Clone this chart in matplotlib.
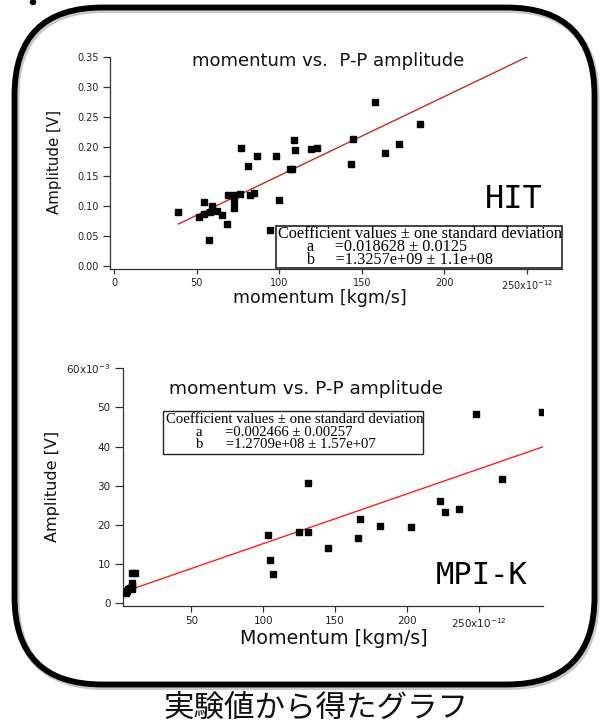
import matplotlib
matplotlib.use('Agg')
import matplotlib.pyplot as plt
from matplotlib.patches import FancyBboxPatch, Rectangle, Circle
import numpy as np

plt.rcParams['font.family'] = ['DejaVu Sans']

# ---------------- data ----------------
# HIT (x in 1e-12 kgm/s, y in V)
hit_x = [38.9, 51.7, 54.5, 54.7, 57.3, 58.1, 59.1, 62.3, 65.6, 68.6, 69.0, 72.6,
         72.6, 72.6, 76.5, 76.9, 81.3, 82.3, 84.7, 86.4, 94.3, 98.2, 100.1, 106.8,
         107.9, 108.9, 109.8, 119.5, 123.2, 143.4, 144.5, 158.0, 163.8, 172.6, 185.3]
hit_y = [0.090, 0.082, 0.107, 0.087, 0.043, 0.090, 0.101, 0.092, 0.086, 0.070, 0.119, 0.119,
         0.109, 0.097, 0.120, 0.198, 0.167, 0.119, 0.123, 0.184, 0.060, 0.184, 0.110, 0.162,
         0.163, 0.211, 0.194, 0.196, 0.198, 0.171, 0.213, 0.275, 0.190, 0.204, 0.237]
hit_a, hit_b = 0.018628, 1.3257e9
hit_fit_range = [39.0, 250.0]
hit_xticks = [0, 50, 100, 150, 200, 250]
hit_xticklabels = ['0', '50', '100', '150', '200', r'250x10$^{-12}$']
hit_yticks = [0.00, 0.05, 0.10, 0.15, 0.20, 0.25, 0.30, 0.35]
hit_coef_lines = ['Coefficient values ± one standard deviation',
                  '       a     =0.018628 ± 0.0125',
                  '       b     =1.3257e+09 ± 1.1e+08']

# MPI-K (x in 1e-12 kgm/s, y in 1e-3 V)
mpi_x = [4.5, 5.4, 6.1, 7.2, 8.6, 8.6, 8.6, 8.6, 10.9, 103.0, 104.9, 106.5, 124.6,
         131.0, 131.5, 144.8, 166.1, 167.5, 181.6, 202.7, 223.2, 226.7, 236.5, 248.5,
         266.6, 294.4]
mpi_y = [2.6, 3.0, 3.5, 3.8, 3.5, 4.3, 5.0, 7.6, 7.7, 17.4, 11.1, 7.5, 18.1,
         30.6, 18.1, 14.1, 16.7, 21.5, 19.7, 19.5, 26.1, 23.3, 24.0, 48.4,
         31.6, 48.8]
mpi_a, mpi_b = 0.002466, 1.2709e8
mpi_fit_range = [4.5, 294.6]
mpi_xticks = [50, 100, 150, 200, 250]
mpi_xticklabels = ['50', '100', '150', '200', r'250x10$^{-12}$']
mpi_yticks = [0, 10, 20, 30, 40, 50, 60]
mpi_yticklabels = ['0', '10', '20', '30', '40', '50', r'60x10$^{-3}$']
mpi_coef_lines = ['Coefficient values ± one standard deviation',
                  '        a      =0.002466 ± 0.00257',
                  '        b      =1.2709e+08 ± 1.57e+07']

W, H = 600, 728
fig = plt.figure(figsize=(W / 100, H / 100), dpi=100)
fig.patch.set_facecolor('white')


def rect(l, t, r, b):
    return [l / W, 1 - b / H, (r - l) / W, (b - t) / H]


def style(ax, xlen, ylen, fs):
    for s in ('top', 'right'):
        ax.spines[s].set_visible(False)
    for s in ('left', 'bottom'):
        ax.spines[s].set_linewidth(0.9)
        ax.spines[s].set_color('#333333')
    ax.patch.set_alpha(0)
    ax.tick_params(axis='x', direction='out', length=xlen, width=0.9, color='#333333',
                   labelsize=fs, pad=3, labelcolor='#222222')
    ax.tick_params(axis='y', direction='out', length=ylen, width=0.9, color='#333333',
                   labelsize=fs, pad=3, labelcolor='#222222')


# ---------------- top chart (HIT) ----------------
ax1 = fig.add_axes(rect(110, 57, 562, 269))
ax1.set_xlim(-2.4, 271.2)
ax1.set_ylim(-0.005, 0.35)
fx = np.array(hit_fit_range)
ax1.plot(fx, hit_a + hit_b * fx * 1e-12, color='#c62a22', lw=1.0, zorder=2)
ax1.plot(hit_x, hit_y, ls='none', marker='s', ms=3.8, color='black', zorder=3)
ax1.set_xticks(hit_xticks)
ax1.set_xticklabels(hit_xticklabels)
ax1.set_yticks(hit_yticks)
ax1.set_yticklabels(['%.2f' % v for v in hit_yticks])
style(ax1, 3.6, 5, 7)

# ---------------- bottom chart (MPI-K) ----------------
ax2 = fig.add_axes(rect(122.5, 368.3, 542.7, 606))
ax2.set_xlim(2.0, 294.6)
ax2.set_ylim(-0.77, 60)
fx2 = np.array(mpi_fit_range)
ax2.plot(fx2, (mpi_a + mpi_b * fx2 * 1e-12) * 1e3, color='#ff2020', lw=1.0, zorder=2)
ax2.plot(mpi_x, mpi_y, ls='none', marker='s', ms=3.8, color='black', zorder=3)
ax2.set_xticks(mpi_xticks)
ax2.set_xticklabels(mpi_xticklabels)
ax2.set_yticks(mpi_yticks)
ax2.set_yticklabels(mpi_yticklabels)
style(ax2, 4.2, 5.5, 7.5)

# ---------------- overlay (pixel coordinates) ----------------
ov = fig.add_axes([0, 0, 1, 1], zorder=10)
ov.set_xlim(0, W)
ov.set_ylim(H, 0)
ov.axis('off')
ov.patch.set_alpha(0)

# rounded border with soft shadow
ov.add_patch(FancyBboxPatch((16.0, 9.5), 580, 677,
                            boxstyle='round,pad=0,rounding_size=88',
                            fill=False, lw=5, ec='#999999', alpha=0.55))
ov.add_patch(FancyBboxPatch((14.5, 7.5), 580, 677,
                            boxstyle='round,pad=0,rounding_size=88',
                            fill=False, lw=4.2, ec='black'))
ov.add_patch(Circle((33, 2), 2.5, color='black'))

# titles / labels
ov.text(328, 61, 'momentum vs.  P-P amplitude', ha='center', va='center', fontsize=13, color='#111111')
ov.text(306, 389, 'momentum vs. P-P amplitude', ha='center', va='center', fontsize=13.3, color='#111111')
ov.text(54, 162, 'Amplitude [V]', ha='center', va='center', rotation=90, fontsize=10.8, color='#111111')
ov.text(52, 486, 'Amplitude [V]', ha='center', va='center', rotation=90, fontsize=11.5, color='#111111')
ov.text(320, 298, 'momentum [kgm/s]', ha='center', va='center', fontsize=12.5, color='#111111')
ov.text(334, 638, 'Momentum [kgm/s]', ha='center', va='center', fontsize=13.7, color='#111111')
ov.text(514, 200, 'HIT', ha='center', va='center', fontsize=23, color='black',
        family='DejaVu Sans Mono')
ov.text(482, 575, 'MPI-K', ha='center', va='center', fontsize=22, color='black',
        family='DejaVu Sans Mono')

# coefficient boxes
serif = 'Liberation Serif'
ov.add_patch(Rectangle((276, 226), 286, 42, fill=False, lw=1.2, ec='#222222'))
ov.text(278, 247, '\n'.join(hit_coef_lines), ha='left', va='center',
        family=serif, fontsize=11.7, linespacing=0.74)

ov.add_patch(Rectangle((163, 410.7), 260, 43.6, fill=False, lw=1.0, ec='#222222'))
ov.text(165.7, 432.3, '\n'.join(mpi_coef_lines), ha='left', va='center',
        family=serif, fontsize=10.6, linespacing=0.95)

# caption
ov.text(316, 708, '実験値から得たグラフ', ha='center', va='center', fontsize=22,
        family=['Noto Sans CJK JP', 'DejaVu Sans'], color='#111111')

fig.savefig('out.png', dpi=100, facecolor='white')
